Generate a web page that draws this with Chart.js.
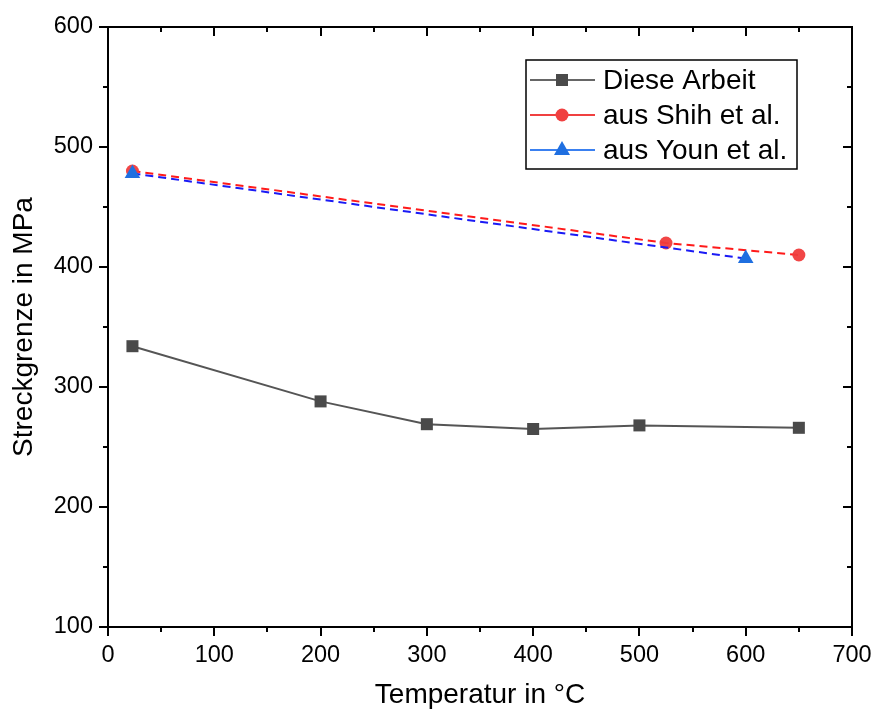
<!DOCTYPE html>
<html>
<head>
<meta charset="utf-8">
<script src="https://cdn.jsdelivr.net/npm/chart.js@4/dist/chart.umd.min.js"></script>
<style>
  html, body { margin: 0; padding: 0; background: #fff; }
  #wrap { width: 874px; height: 709px; }
</style>
</head>
<body>
<div id="wrap"><canvas id="c" width="874" height="709"></canvas></div>
<script>
// Yield strength vs. temperature
const dieseTemp = [23, 200, 300, 400, 500, 650];
const dieseStrength = [334, 288, 269, 265, 268, 266];
const shihTemp = [23, 525, 650];
const shihStrength = [480, 420, 410];
const younTemp = [23, 600];
const younStrength = [478, 407];
const seriesNames = ['Diese Arbeit', 'aus Shih et al.', 'aus Youn et al.'];
const xTitle = 'Temperatur in °C';
const yTitle = 'Streckgrenze in MPa';

const FONT = "'Liberation Sans', Arial, sans-serif";
const toXY = (xs, ys) => xs.map((x, i) => ({ x: x, y: ys[i] }));

// Box frame with major/minor ticks: outward on left/bottom, inward on top/right
const framePlugin = {
  id: 'frame',
  afterDraw(chart) {
    const { ctx, chartArea: a, scales } = chart;
    const xs = scales.x, ys = scales.y;
    ctx.save();
    ctx.strokeStyle = '#000';
    ctx.lineWidth = 2;
    ctx.lineCap = 'butt';
    ctx.beginPath();
    for (let v = 0; v <= 700; v += 50) {
      const px = Math.round(xs.getPixelForValue(v));
      const major = v % 100 === 0;
      ctx.moveTo(px, a.bottom); ctx.lineTo(px, a.bottom + (major ? 9 : 5));
      ctx.moveTo(px, a.top); ctx.lineTo(px, a.top + (major ? 9 : 5));
    }
    for (let v = 100; v <= 600; v += 50) {
      const py = Math.round(ys.getPixelForValue(v));
      const major = v % 100 === 0;
      ctx.moveTo(a.left, py); ctx.lineTo(a.left - (major ? 9 : 5), py);
      ctx.moveTo(a.right, py); ctx.lineTo(a.right - (major ? 9 : 5), py);
    }
    ctx.stroke();
    ctx.strokeRect(a.left, a.top, a.right - a.left, a.bottom - a.top);
    ctx.restore();
  }
};

// Legend box inside the plot, top right
const legendPlugin = {
  id: 'boxLegend',
  afterDraw(chart) {
    const { ctx } = chart;
    const box = { x: 526, y: 60, w: 271, h: 109 };
    const rows = [
      { line: '#666666', fill: '#4a4a4a', shape: 'rect' },
      { line: '#f04040', fill: '#f04040', shape: 'circle' },
      { line: '#3a80f0', fill: '#1f6fe0', shape: 'triangle' }
    ];
    ctx.save();
    ctx.fillStyle = '#fff';
    ctx.fillRect(box.x, box.y, box.w, box.h);
    ctx.strokeStyle = '#000';
    ctx.lineWidth = 1.5;
    ctx.strokeRect(box.x, box.y, box.w, box.h);
    rows.forEach((r, i) => {
      const y = 80 + i * 35;
      ctx.strokeStyle = r.line;
      ctx.lineWidth = 2;
      ctx.beginPath();
      ctx.moveTo(530, y); ctx.lineTo(595, y);
      ctx.stroke();
      ctx.fillStyle = r.fill;
      ctx.beginPath();
      const cx = 562;
      if (r.shape === 'rect') {
        ctx.rect(cx - 6, y - 6, 12, 12);
      } else if (r.shape === 'circle') {
        ctx.arc(cx, y, 6.5, 0, Math.PI * 2);
      } else {
        ctx.moveTo(cx, y - 9);
        ctx.lineTo(cx + 8, y + 5);
        ctx.lineTo(cx - 8, y + 5);
        ctx.closePath();
      }
      ctx.fill();
      ctx.fillStyle = '#000';
      ctx.font = '28px ' + FONT;
      ctx.textBaseline = 'middle';
      ctx.textAlign = 'left';
      ctx.fillText(seriesNames[i], 603, y + 1);
    });
    ctx.restore();
  }
};

new Chart(document.getElementById('c'), {
  type: 'scatter',
  data: {
    datasets: [
      {
        label: seriesNames[0],
        data: toXY(dieseTemp, dieseStrength),
        showLine: true,
        borderColor: '#555555',
        borderWidth: 2,
        pointStyle: 'rect',
        pointRadius: 8.5,
        pointBackgroundColor: '#4a4a4a',
        pointBorderColor: '#4a4a4a',
        pointBorderWidth: 0,
        order: 3
      },
      {
        label: seriesNames[1],
        data: toXY(shihTemp, shihStrength),
        showLine: true,
        borderColor: '#ff1a1a',
        borderWidth: 2,
        borderDash: [8, 5],
        pointStyle: 'circle',
        pointRadius: 6.5,
        pointBackgroundColor: 'rgba(240,60,60,0.95)',
        pointBorderColor: 'rgba(240,60,60,0.95)',
        pointBorderWidth: 0,
        order: 2
      },
      {
        label: seriesNames[2],
        data: toXY(younTemp, younStrength),
        showLine: true,
        borderColor: '#1a1af5',
        borderWidth: 2,
        borderDash: [8, 5],
        pointStyle: 'triangle',
        pointRadius: 9,
        pointBackgroundColor: '#1f6fe0',
        pointBorderColor: '#1f6fe0',
        pointBorderWidth: 0,
        order: 1
      }
    ]
  },
  options: {
    responsive: false,
    animation: false,
    layout: { padding: { top: 27, right: 22, left: 0, bottom: 0 } },
    plugins: { legend: { display: false }, tooltip: { enabled: false } },
    scales: {
      x: {
        type: 'linear',
        min: 0, max: 700,
        grid: { display: false },
        border: { display: false },
        ticks: { stepSize: 100, color: '#000', font: { family: FONT, size: 23.5 }, padding: 6, maxRotation: 0 },
        title: { display: true, text: xTitle, color: '#000', font: { family: FONT, size: 28, lineHeight: 1 }, padding: { top: 0, bottom: 0 } },
        afterFit(s) { s.height = 82; s.paddingLeft = 0; s.paddingRight = 0; }
      },
      y: {
        type: 'linear',
        min: 100, max: 600,
        grid: { display: false },
        border: { display: false },
        ticks: { stepSize: 100, color: '#000', font: { family: FONT, size: 23.5 }, padding: 7 },
        title: { display: true, text: yTitle, color: '#000', font: { family: FONT, size: 28, lineHeight: 1 }, padding: { top: 10, bottom: 0 } },
        afterFit(s) { s.width = 108; }
      }
    }
  },
  plugins: [framePlugin, legendPlugin]
});
</script>
</body>
</html>
